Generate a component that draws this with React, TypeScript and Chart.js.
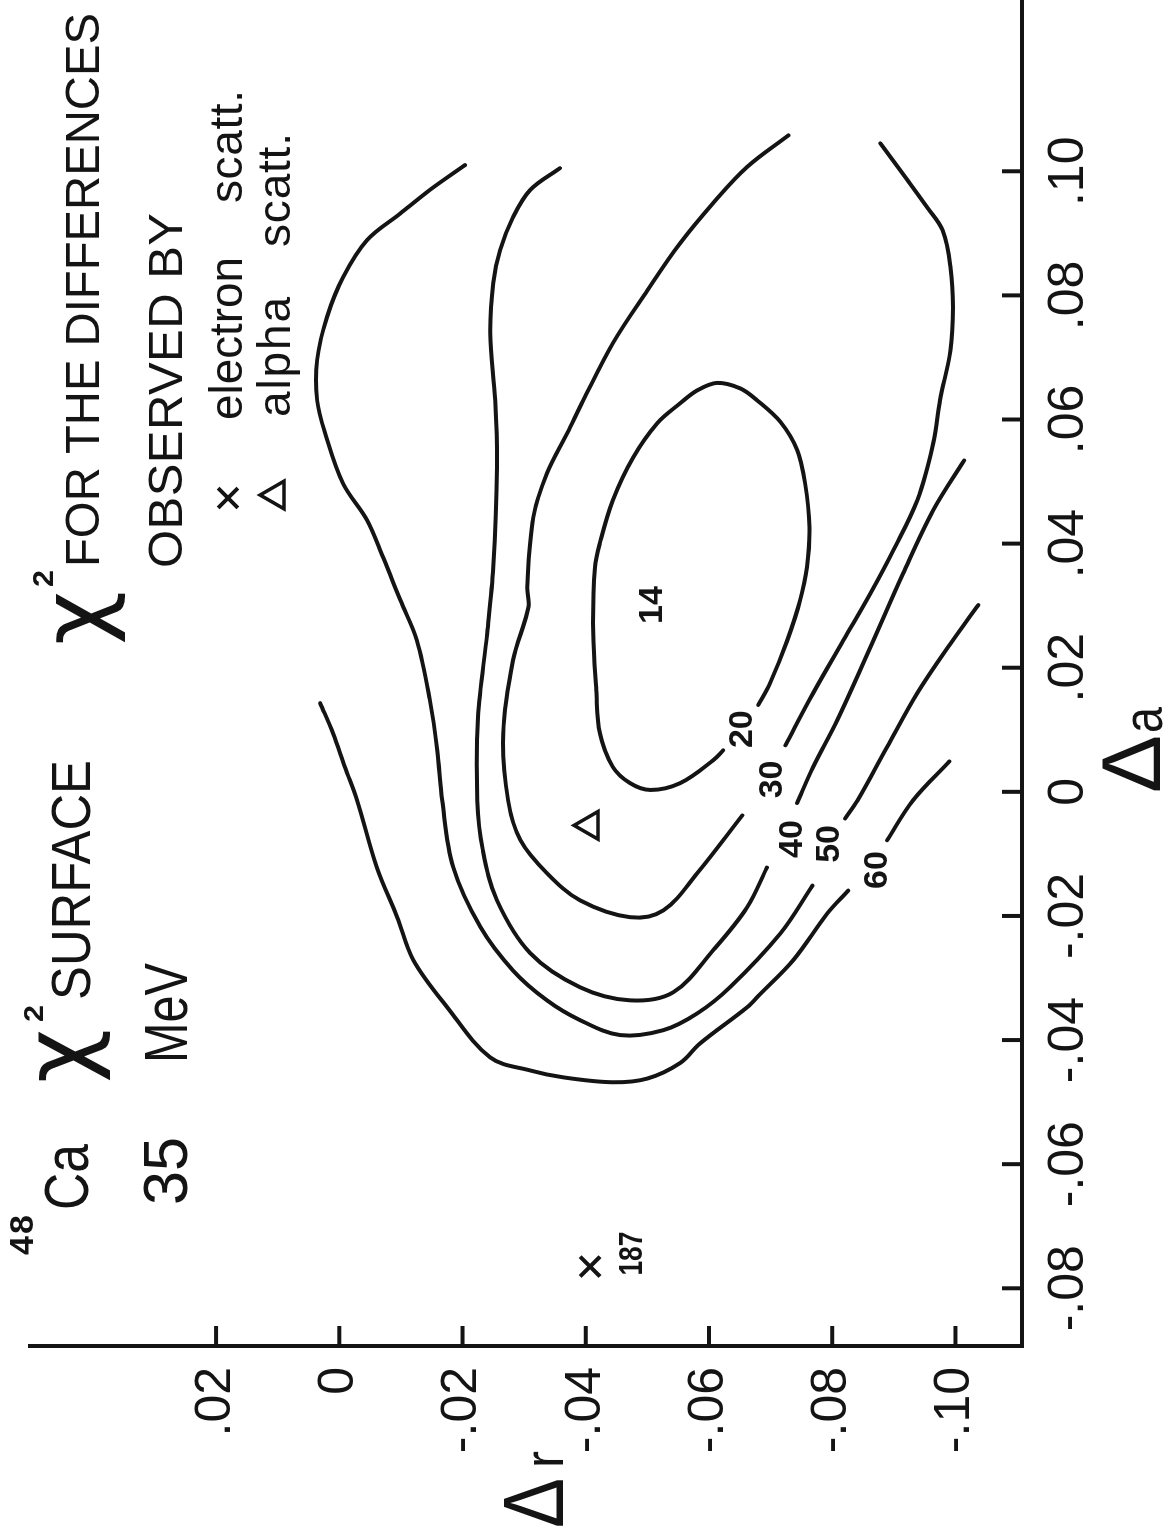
import React, { useEffect, useRef } from 'react';
import { Chart, registerables } from 'chart.js';

Chart.register(...registerables);

const INK = '#141414';
const SANS = '"Liberation Sans", "DejaVu Sans", Arial, sans-serif';
const GREEK = '"DejaVu Sans", "Liberation Sans", sans-serif';

// Axes: Δa runs along the horizontal scale, Δr along the vertical one
const DA_TICKS = [-0.08, -0.06, -0.04, -0.02, 0, 0.02, 0.04, 0.06, 0.08, 0.1];
const DR_TICKS = [0.02, 0, -0.02, -0.04, -0.06, -0.08, -0.1];
const DA_MIN = -0.0893;
const DA_MAX = 0.1276;
const DR_MIN = -0.1108;
const DR_MAX = 0.0502;

type Pair = [number, number]; // [Δa, Δr]

// χ² = 20 (closed loop around the minimum, opened where its label sits)
const CHI2_20: Pair[] = [
  [0.014, -0.068], [0.0175, -0.0699], [0.0244, -0.0727], [0.0309, -0.0748], [0.0362, -0.0759],
  [0.0426, -0.0763], [0.0497, -0.0756], [0.0551, -0.0743], [0.0596, -0.0716], [0.0631, -0.0678],
  [0.065, -0.0651], [0.0659, -0.0613], [0.0647, -0.0581], [0.0626, -0.0553], [0.0594, -0.0516],
  [0.0539, -0.0477], [0.047, -0.0444], [0.0401, -0.0423], [0.0362, -0.0415], [0.0256, -0.0412],
  [0.0164, -0.0417], [0.0094, -0.0423], [0.004, -0.0444], [0.0014, -0.0472], [0.0003, -0.0505],
  [0.0014, -0.0553], [0.0051, -0.0607], [0.0067, -0.0623],
];

// χ² = 30
const CHI2_30_A: Pair[] = [
  [0.1045, -0.0878], [0.0986, -0.0922], [0.0942, -0.0954], [0.0905, -0.0979], [0.0845, -0.0992],
  [0.0781, -0.0996], [0.0712, -0.0992], [0.0631, -0.0975], [0.0562, -0.0964], [0.047, -0.0938],
  [0.0389, -0.0899], [0.032, -0.0862], [0.0244, -0.0818], [0.0159, -0.0769], [0.0075, -0.0724],
];
const CHI2_30_B: Pair[] = [
  [-0.0038, -0.0654], [-0.0131, -0.0581], [-0.0191, -0.0526], [-0.0202, -0.0472], [-0.0175, -0.0391],
  [-0.0131, -0.0337], [-0.0078, -0.0294], [-0.0014, -0.0274], [0.0094, -0.0266], [0.0212, -0.0282],
  [0.0298, -0.0307], [0.033, -0.0305], [0.0443, -0.0315], [0.0513, -0.0337], [0.0578, -0.037],
  [0.0631, -0.0396], [0.0723, -0.0444], [0.0808, -0.05], [0.0884, -0.0553], [0.0949, -0.0607],
  [0.1007, -0.0662], [0.1058, -0.0729],
];

// χ² = 40
const CHI2_40_A: Pair[] = [
  [0.0534, -0.1014], [0.0454, -0.0964], [0.0352, -0.0915], [0.0233, -0.0862], [0.0115, -0.0808],
  [0.004, -0.0769], [-0.0018, -0.0743],
];
const CHI2_40_B: Pair[] = [
  [-0.0122, -0.0694], [-0.0186, -0.0662], [-0.0255, -0.0607], [-0.0323, -0.0542], [-0.0336, -0.0472],
  [-0.0315, -0.0391], [-0.026, -0.031], [-0.0175, -0.0256], [-0.0094, -0.0233], [-0.0014, -0.0224],
  [0.012, -0.0225], [0.0256, -0.024], [0.0362, -0.025], [0.0523, -0.0256], [0.0631, -0.0253],
  [0.0739, -0.0245], [0.082, -0.025], [0.0873, -0.0261], [0.0926, -0.0282], [0.097, -0.031],
  [0.1005, -0.0358],
];

// χ² = 50
const CHI2_50_A: Pair[] = [
  [0.0301, -0.1037], [0.0239, -0.0992], [0.0159, -0.0938], [0.0072, -0.0889], [-0.0014, -0.0841],
  [-0.0043, -0.0821],
];
const CHI2_50_B: Pair[] = [
  [-0.0151, -0.0768], [-0.0228, -0.0716], [-0.0315, -0.0634], [-0.0357, -0.0581], [-0.0384, -0.0526],
  [-0.0392, -0.0456], [-0.0368, -0.0391], [-0.0336, -0.0337], [-0.0288, -0.0282], [-0.0218, -0.0229],
  [-0.0122, -0.0185], [-0.0014, -0.0167], [0.0067, -0.0159], [0.0148, -0.0147], [0.0244, -0.0126],
  [0.0309, -0.0099], [0.0378, -0.0071], [0.0438, -0.0045], [0.0497, -0.0006], [0.0578, 0.0023],
  [0.0631, 0.0036], [0.0696, 0.0036], [0.0765, 0.002], [0.0829, -0.0006], [0.0889, -0.0045],
  [0.0932, -0.0099], [0.097, -0.0147], [0.101, -0.0204],
];

// χ² = 60
const CHI2_60_A: Pair[] = [
  [0.0049, -0.099], [-0.0014, -0.0931], [-0.0078, -0.0889],
];
const CHI2_60_B: Pair[] = [
  [-0.0159, -0.0826], [-0.0196, -0.0792], [-0.0271, -0.0737], [-0.0326, -0.0683], [-0.0347, -0.0662],
  [-0.0405, -0.0586], [-0.0437, -0.0553], [-0.0462, -0.05], [-0.0468, -0.0444], [-0.046, -0.0363],
  [-0.0449, -0.031], [-0.0428, -0.0245], [-0.0347, -0.0175], [-0.0271, -0.012], [-0.0202, -0.0094],
  [-0.0122, -0.0061], [-0.0014, -0.0029], [0.004, -0.0009], [0.0094, 0.001], [0.0143, 0.0031],
];

const CONTOURS: { level: number; segments: Pair[][] }[] = [
  { level: 20, segments: [CHI2_20] },
  { level: 30, segments: [CHI2_30_A, CHI2_30_B] },
  { level: 40, segments: [CHI2_40_A, CHI2_40_B] },
  { level: 50, segments: [CHI2_50_A, CHI2_50_B] },
  { level: 60, segments: [CHI2_60_A, CHI2_60_B] },
];

// level labels placed in the breaks of the contours, plus the minimum value
const LEVEL_LABELS: { text: string; da: number; dr: number }[] = [
  { text: '14', da: 0.0301, dr: -0.0505 },
  { text: '20', da: 0.0101, dr: -0.0651 },
  { text: '30', da: 0.002, dr: -0.0699 },
  { text: '40', da: -0.0076, dr: -0.0732 },
  { text: '50', da: -0.0084, dr: -0.0792 },
  { text: '60', da: -0.0126, dr: -0.087 },
];

// best-fit points from the two probes
const ELECTRON_POINT: Pair = [-0.0765, -0.0407];
const ELECTRON_CHI2 = 187;
const ALPHA_POINT: Pair = [-0.0054, -0.0407];

const fmt = (v: number) => {
  if (Math.abs(v) < 1e-9) return '0';
  const s = Math.abs(v).toFixed(2).replace(/^0/, '');
  return v < 0 ? '-' + s : s;
};

function drawText(
  ctx: CanvasRenderingContext2D,
  text: string,
  left: number,
  baseline: number,
  width: number,
  font: string,
) {
  const c = ctx as any;
  ctx.save();
  ctx.font = font;
  ctx.fillStyle = INK;
  ctx.textAlign = 'left';
  ctx.textBaseline = 'alphabetic';
  const hasSpacing = 'letterSpacing' in c;
  if (hasSpacing) c.letterSpacing = '0px';
  const natural = ctx.measureText(text).width;
  if (hasSpacing && width > natural && text.length > 1) {
    c.letterSpacing = (width - natural) / (text.length - 1) + 'px';
    ctx.fillText(text, left, baseline);
  } else {
    ctx.translate(left, baseline);
    ctx.scale(width / natural, 1);
    ctx.fillText(text, 0, 0);
  }
  ctx.restore();
}

function drawCross(ctx: CanvasRenderingContext2D, cx: number, cy: number, r: number) {
  const d = r * Math.SQRT1_2;
  ctx.beginPath();
  ctx.moveTo(cx - d, cy - d);
  ctx.lineTo(cx + d, cy + d);
  ctx.moveTo(cx + d, cy - d);
  ctx.lineTo(cx - d, cy + d);
  ctx.stroke();
}

function drawTriangle(ctx: CanvasRenderingContext2D, cx: number, cy: number, r: number) {
  ctx.beginPath();
  for (let i = 0; i < 3; i++) {
    const a = (i * 2 * Math.PI) / 3;
    const px = cx + Math.sin(a) * r;
    const py = cy - Math.cos(a) * r;
    if (i === 0) ctx.moveTo(px, py);
    else ctx.lineTo(px, py);
  }
  ctx.closePath();
  ctx.stroke();
}

const annotations = {
  id: 'surfaceAnnotations',
  afterDraw(chart: any) {
    const ctx: CanvasRenderingContext2D = chart.ctx;
    const xs = chart.scales.x;
    const ys = chart.scales.y;
    const { left, bottom } = chart.chartArea;

    ctx.save();
    ctx.strokeStyle = INK;
    ctx.lineWidth = 4;
    ctx.lineCap = 'butt';

    // inward tick marks
    xs.ticks.forEach((t: any) => {
      const px = xs.getPixelForValue(t.value);
      ctx.beginPath();
      ctx.moveTo(px, bottom);
      ctx.lineTo(px, bottom - 20);
      ctx.stroke();
    });
    ys.ticks.forEach((t: any) => {
      const py = ys.getPixelForValue(t.value);
      ctx.beginPath();
      ctx.moveTo(left, py);
      ctx.lineTo(left + 20, py);
      ctx.stroke();
    });

    // contour level labels
    ctx.fillStyle = INK;
    ctx.font = `bold 34px ${SANS}`;
    ctx.textAlign = 'center';
    ctx.textBaseline = 'alphabetic';
    LEVEL_LABELS.forEach((l) => {
      const px = xs.getPixelForValue(l.da);
      const py = ys.getPixelForValue(l.dr);
      ctx.fillText(l.text, px, py + 12);
    });

    // χ² value at the electron-scattering point
    const ex = xs.getPixelForValue(ELECTRON_POINT[0]);
    const ey = ys.getPixelForValue(ELECTRON_POINT[1]);
    drawText(ctx, String(ELECTRON_CHI2), ex - 9, ey + 52, 44, `bold 34px ${SANS}`);

    // title block
    drawText(ctx, '48', 280, 33, 40, `bold 34px ${SANS}`);
    drawText(ctx, 'Ca', 325, 88, 66, `63px ${SANS}`);
    drawText(ctx, '35', 330, 187, 68, `63px ${SANS}`);
    drawText(ctx, 'χ', 452, 90, 54, `95px ${GREEK}`);
    drawText(ctx, '2', 513, 43, 17, `bold 28px ${SANS}`);
    drawText(ctx, 'SURFACE', 535, 90, 240, `56px ${SANS}`);
    drawText(ctx, 'MeV', 472, 187, 100, `61px ${SANS}`);

    drawText(ctx, 'χ', 890, 106, 54, `90px ${GREEK}`);
    drawText(ctx, '2', 948, 53, 17, `bold 30px ${SANS}`);
    drawText(ctx, 'FOR THE DIFFERENCES', 968, 99, 554, `48px ${SANS}`);
    drawText(ctx, 'OBSERVED BY', 967, 182, 355, `49px ${SANS}`);

    // key
    ctx.lineWidth = 4;
    drawCross(ctx, 1037, 228, 14);
    drawText(ctx, 'electron', 1115, 242, 163, `46px ${SANS}`);
    drawText(ctx, 'scatt.', 1332, 242, 113, `46px ${SANS}`);
    ctx.lineWidth = 3.5;
    drawTriangle(ctx, 1040, 276, 16);
    drawText(ctx, 'alpha', 1118, 290, 120, `46px ${SANS}`);
    drawText(ctx, 'scatt.', 1288, 290, 114, `46px ${SANS}`);

    // axis titles
    drawText(ctx, 'Δ', 7, 563, 50, `85px ${SANS}`);
    drawText(ctx, 'r', 67, 563, 17, `56px ${SANS}`);
    drawText(ctx, 'Δ', 742, 1160, 58, `84px ${SANS}`);
    drawText(ctx, 'a', 802, 1162, 26, `56px ${SANS}`);

    ctx.restore();
  },
};

export default function App() {
  const canvasRef = useRef<HTMLCanvasElement | null>(null);

  useEffect(() => {
    const canvas = canvasRef.current;
    if (!canvas) return;

    const datasets: any[] = [];
    CONTOURS.forEach((c) =>
      c.segments.forEach((seg) =>
        datasets.push({
          label: `χ² = ${c.level}`,
          data: seg.map(([a, r]) => ({ x: a, y: r })),
          showLine: true,
          borderColor: INK,
          borderWidth: 4,
          borderCapStyle: 'round',
          borderJoinStyle: 'round',
          pointRadius: 0,
          tension: 0.35,
          fill: false,
        }),
      ),
    );
    datasets.push({
      label: 'electron scatt.',
      data: [{ x: ELECTRON_POINT[0], y: ELECTRON_POINT[1] }],
      showLine: false,
      pointStyle: 'crossRot',
      pointRadius: 14,
      pointBorderWidth: 4,
      pointBorderColor: INK,
      pointBackgroundColor: 'rgba(0,0,0,0)',
    });
    datasets.push({
      label: 'alpha scatt.',
      data: [{ x: ALPHA_POINT[0], y: ALPHA_POINT[1] }],
      showLine: false,
      pointStyle: 'triangle',
      pointRadius: 16,
      pointBorderWidth: 3.5,
      pointBorderColor: INK,
      pointBackgroundColor: 'rgba(0,0,0,0)',
    });

    const tickFont = { family: SANS, size: 50, weight: 'normal' as const };

    const chart = new Chart(canvas, {
      type: 'scatter',
      data: { datasets },
      options: {
        responsive: false,
        maintainAspectRatio: false,
        animation: false,
        devicePixelRatio: 1,
        events: [],
        layout: { autoPadding: false, padding: { top: 30, left: 0, right: 0, bottom: 0 } },
        plugins: { legend: { display: false }, tooltip: { enabled: false } },
        scales: {
          x: {
            type: 'linear',
            position: 'bottom',
            min: DA_MIN,
            max: DA_MAX,
            afterBuildTicks: (s: any) => {
              s.ticks = DA_TICKS.map((value) => ({ value }));
            },
            afterFit: (s: any) => {
              s.height = 148;
              s.paddingLeft = 0;
              s.paddingRight = 0;
            },
            grid: { display: false, drawTicks: false, tickLength: 0 },
            border: { display: true, color: INK, width: 4 },
            ticks: {
              color: INK,
              font: tickFont,
              padding: 17,
              autoSkip: false,
              maxRotation: 0,
              minRotation: 0,
              callback: (v: any) => fmt(Number(v)),
            },
          },
          y: {
            type: 'linear',
            position: 'left',
            min: DR_MIN,
            max: DR_MAX,
            afterBuildTicks: (s: any) => {
              s.ticks = DR_TICKS.map((value) => ({ value }));
            },
            afterFit: (s: any) => {
              s.width = 189;
              s.paddingTop = 0;
              s.paddingBottom = 0;
            },
            grid: { display: false, drawTicks: false, tickLength: 0 },
            border: { display: true, color: INK, width: 4 },
            ticks: {
              color: INK,
              font: tickFont,
              padding: 21,
              autoSkip: false,
              callback: (v: any) => fmt(Number(v)),
            },
          },
        },
      },
      plugins: [annotations],
    });

    return () => chart.destroy();
  }, []);

  return (
    <div
      style={{
        position: 'absolute',
        left: 0,
        top: 0,
        width: 1170,
        height: 1535,
        overflow: 'hidden',
        background: '#ffffff',
      }}
    >
      <canvas
        ref={canvasRef}
        width={1535}
        height={1170}
        style={{
          position: 'absolute',
          left: 0,
          top: 0,
          width: 1535,
          height: 1170,
          transformOrigin: '0 0',
          transform: 'translateY(1535px) rotate(-90deg)',
        }}
      />
    </div>
  );
}
